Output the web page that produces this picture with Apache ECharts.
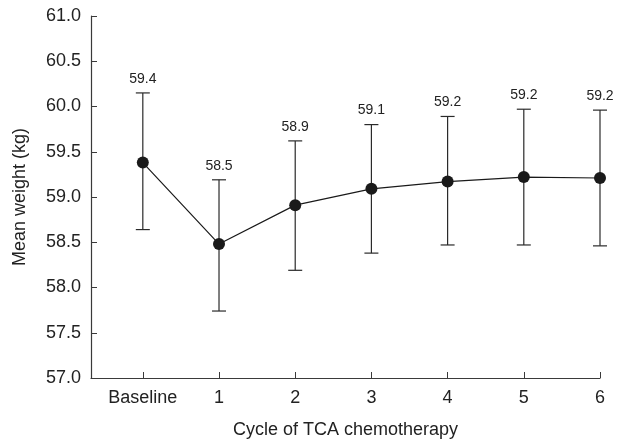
<!DOCTYPE html>
<html>
<head>
<meta charset="utf-8">
<script src="https://cdn.jsdelivr.net/npm/echarts@6/dist/echarts.min.js"></script>
<style>html,body{margin:0;padding:0;background:#fff}#c{width:617px;height:444px}</style>
</head>
<body>
<div id="c"></div>
<script>
var categories = ['Baseline', '1', '2', '3', '4', '5', '6'];
var means = [59.38, 58.48, 58.91, 59.09, 59.17, 59.22, 59.21];
var upper = [60.15, 59.19, 59.62, 59.80, 59.89, 59.97, 59.96];
var lower = [58.64, 57.74, 58.19, 58.38, 58.47, 58.47, 58.46];
var labels = ['59.4', '58.5', '58.9', '59.1', '59.2', '59.2', '59.2'];
var yTicks = [57, 57.5, 58, 58.5, 59, 59.5, 60, 60.5, 61];

var FONT = 'Liberation Sans';
var AX = '#3a3a3a';
var chart = echarts.init(document.getElementById('c'), null, {renderer: 'canvas'});
var idx = categories.map(function (c, i) { return i; });

chart.setOption({
  animation: false,
  grid: {left: 91, right: 17, top: 16, bottom: 64.5, containLabel: false},
  xAxis: {
    type: 'value', min: -0.68, max: 6,
    name: 'Cycle of TCA chemotherapy', nameLocation: 'middle', nameGap: 43,
    nameTextStyle: {fontFamily: FONT, fontSize: 18, color: '#222'},
    axisLine: {show: true, onZero: false, lineStyle: {color: AX, width: 1.2}},
    axisTick: {show: true, inside: true, length: 6, customValues: idx, lineStyle: {color: AX}},
    axisLabel: {customValues: idx, margin: 11, fontFamily: FONT, fontSize: 18, color: '#222',
      formatter: function (v) { return categories[Math.round(v)]; }},
    splitLine: {show: false}
  },
  yAxis: {
    type: 'value', min: 57, max: 61, interval: 0.5,
    name: 'Mean weight (kg)', nameLocation: 'middle', nameGap: 62,
    nameTextStyle: {fontFamily: FONT, fontSize: 18, color: '#222'},
    axisLine: {show: true, onZero: false, lineStyle: {color: AX, width: 1.2}},
    axisTick: {show: true, inside: true, length: 6, lineStyle: {color: AX}},
    axisLabel: {margin: 10, fontFamily: FONT, fontSize: 18, color: '#222',
      formatter: function (v) { return v.toFixed(1); }},
    splitLine: {show: false}
  },
  series: [
    {
      type: 'custom',
      data: idx.map(function (i) { return [i, lower[i], upper[i]]; }),
      renderItem: function (params, api) {
        var x = api.value(0);
        var lo = api.coord([x, api.value(1)]);
        var hi = api.coord([x, api.value(2)]);
        var w = 7;
        var st = {stroke: '#2a2a2a', lineWidth: 1.2};
        return {type: 'group', children: [
          {type: 'line', shape: {x1: lo[0], y1: lo[1], x2: hi[0], y2: hi[1]}, style: st},
          {type: 'line', shape: {x1: hi[0] - w, y1: hi[1], x2: hi[0] + w, y2: hi[1]}, style: st},
          {type: 'line', shape: {x1: lo[0] - w, y1: lo[1], x2: lo[0] + w, y2: lo[1]}, style: st},
          {type: 'text', x: hi[0], y: hi[1] - 7, style: {text: labels[params.dataIndex], fontFamily: FONT, fontSize: 14, fill: '#222', align: 'center', verticalAlign: 'bottom'}}
        ]};
      },
      z: 2
    },
    {
      type: 'line',
      data: idx.map(function (i) { return [i, means[i]]; }),
      symbol: 'circle', symbolSize: 12,
      lineStyle: {color: '#1a1a1a', width: 1.2},
      itemStyle: {color: '#1a1a1a'},
      z: 3
    }
  ]
});
</script>
</body>
</html>
